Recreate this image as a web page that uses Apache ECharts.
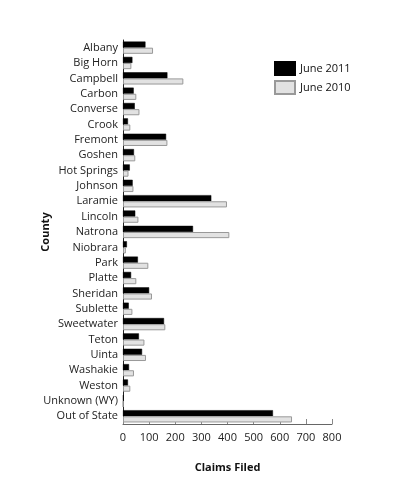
<!DOCTYPE html>
<html><head><meta charset="utf-8">
<script src="https://cdn.jsdelivr.net/npm/echarts@6/dist/echarts.min.js"></script>
<style>html,body{margin:0;padding:0;background:#fff}#c{width:400px;height:500px}</style>
</head><body><div id="c"></div>
<script>
const counties = ["Albany","Big Horn","Campbell","Carbon","Converse","Crook","Fremont","Goshen","Hot Springs","Johnson","Laramie","Lincoln","Natrona","Niobrara","Park","Platte","Sheridan","Sublette","Sweetwater","Teton","Uinta","Washakie","Weston","Unknown (WY)","Out of State"];
const june2011 = [86,36,170,41,45,19,165,42,26,37,338,47,268,15,57,31,100,22,157,61,73,23,19,2,574];
const june2010 = [115,32,231,51,63,28,170,47,21,40,398,59,407,11,97,51,111,36,162,82,88,42,28,1,647];
const xTicks = [0,100,200,300,400,500,600,700,800];

const font = "Open Sans";
const chart = echarts.init(document.getElementById('c'));
chart.setOption({
  animation:false,
  textStyle:{fontFamily:font},
  legend:{orient:'vertical',left:269,top:56,itemWidth:20,itemHeight:13,itemGap:4,icon:'rect',
    textStyle:{fontSize:11,color:'#111',fontFamily:font},
    data:['June 2011','June 2010']},
  grid:{left:123,right:68,top:40,bottom:76},
  xAxis:{type:'value',min:xTicks[0],max:xTicks[xTicks.length-1],interval:100,
    name:'Claims Filed',nameLocation:'middle',nameGap:38,nameMoveOverlap:false,
    nameTextStyle:{fontWeight:'bold',fontSize:11,color:'#111',fontFamily:font},
    axisLine:{show:true,lineStyle:{color:'#666'}},
    axisTick:{show:true,inside:true,length:5,lineStyle:{color:'#888'}},
    axisLabel:{fontSize:11,color:'#222',margin:8},
    splitLine:{show:false}},
  yAxis:{type:'category',data:counties,inverse:true,
    name:'County',nameLocation:'middle',nameGap:72,nameRotate:90,nameMoveOverlap:false,
    nameTextStyle:{fontWeight:'bold',fontSize:11,color:'#111',fontFamily:font},
    axisLine:{show:true,lineStyle:{color:'#222'}},
    axisTick:{show:false},
    axisLabel:{fontSize:11,color:'#222',margin:5}},
  series:[
    {name:'June 2011',type:'bar',data:june2011,barGap:'0%',barCategoryGap:'20%',
      itemStyle:{color:'#000',borderColor:'#000',borderWidth:0.5}},
    {name:'June 2010',type:'bar',data:june2010,
      itemStyle:{color:'#e2e2e2',borderColor:'#999',borderWidth:1}}
  ]
});
</script></body></html>
